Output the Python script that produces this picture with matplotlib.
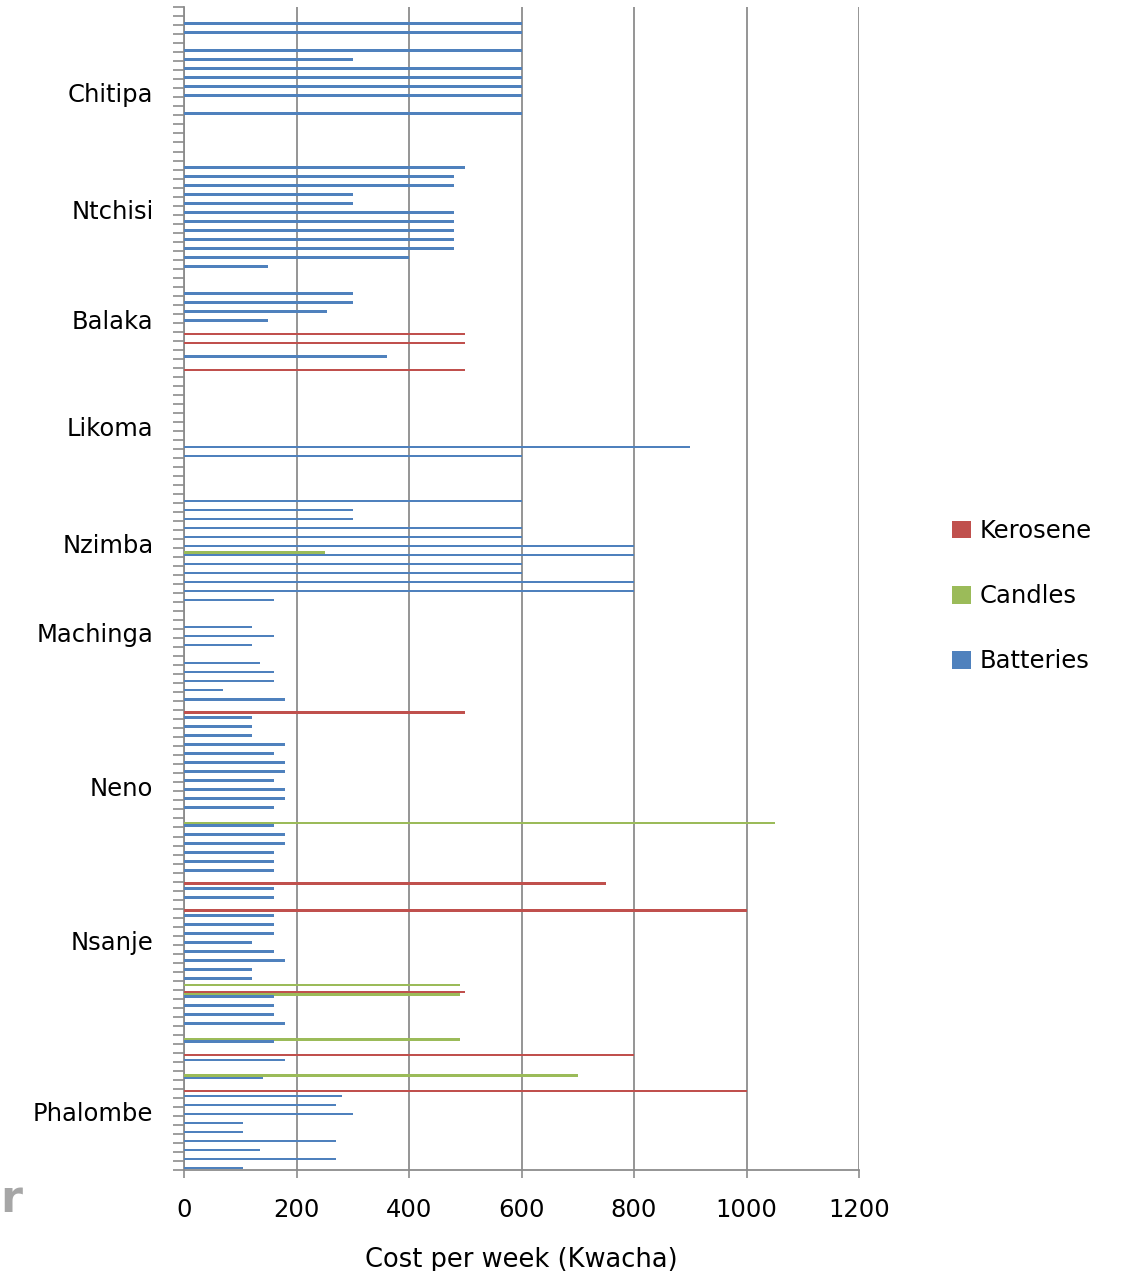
import numpy as np
import matplotlib.pyplot as plt

# Weekly lighting cost (Kwacha) per surveyed household, rows counted from the top
N_ROWS = 129

districts = ["Chitipa", "Ntchisi", "Balaka", "Likoma", "Nzimba",
             "Machinga", "Neno", "Nsanje", "Phalombe"]
district_rows = [9.4, 22.4, 34.6, 46.5, 59.5, 69.4, 86.5, 103.5, 122.5]

kerosene_rows = [36, 37, 40, 78, 97, 100, 109, 116, 120]
kerosene_vals = [500, 500, 500, 500, 750, 1000, 500, 800, 1000]

candles_rows = [60, 90, 108, 109, 114, 118]
candles_vals = [250, 1050, 490, 490, 490, 700]

battery_rows = [1, 2, 4, 5, 6, 7, 8, 9, 11,
                17, 18, 19, 20, 21, 22, 23, 24, 25, 26, 27, 28,
                31, 32, 33, 34, 38,
                48, 49, 54, 55, 56, 57, 58, 59, 60, 61, 62, 63, 64, 65,
                68, 69, 70, 72, 73, 74, 75, 76, 78, 79, 80, 81,
                82, 83, 84, 85, 86, 87, 88, 90, 91, 92, 93, 94, 95, 97, 98,
                100, 101, 102, 103, 104, 105, 106, 107, 109, 110, 111, 112,
                114, 116, 118, 120, 121, 122, 123, 124, 125, 126, 127, 128]
battery_vals = [600, 600, 600, 300, 600, 600, 600, 600, 600,
                500, 480, 480, 300, 300, 480, 480, 480, 480, 480, 400, 150,
                300, 300, 255, 150, 360,
                900, 600, 600, 300, 300, 600, 600, 800, 800, 600, 600, 800, 800, 160,
                120, 160, 120, 135, 160, 160, 70, 180, 120, 120, 120, 180,
                160, 180, 180, 160, 180, 180, 160, 160, 180, 180, 160, 160, 160, 160, 160,
                160, 160, 160, 120, 160, 180, 120, 120, 160, 160, 160, 180,
                160, 180, 140, 280, 270, 300, 105, 105, 270, 135, 270, 105]

FONT = 17.5
GRID = "#8c8c8c"

W, H = 1122, 1271
fig = plt.figure(figsize=(W / 100, H / 100), dpi=100)
ax = fig.add_axes([184 / W, 1 - 1170 / H, 675 / W, 1162.7 / H])

# each household row holds three slots: kerosene on top, candles, batteries below
series = [
    ("Kerosene", kerosene_rows, kerosene_vals, "#C0504D", 0.23),
    ("Candles", candles_rows, candles_vals, "#9BBB59", 0.50),
    ("Batteries", battery_rows, battery_vals, "#4F81BD", 0.77),
]
for name, rows, vals, color, off in series:
    ax.barh(np.array(rows) + off, vals, height=0.28, color=color,
            label=name, zorder=3)

ax.set_xlim(0, 1200)
ax.set_ylim(N_ROWS, 0)
ax.set_xticks(np.arange(0, 1201, 200))
ax.set_yticks(district_rows)
ax.set_yticklabels(districts)
ax.set_yticks(np.arange(0, N_ROWS + 1), minor=True)

ax.tick_params(axis="y", which="major", length=0, pad=22, labelsize=FONT)
ax.tick_params(axis="y", which="minor", length=8, width=1.2, color=GRID)
ax.tick_params(axis="x", length=6, width=1.2, color=GRID, pad=14,
               labelsize=FONT)

ax.xaxis.grid(True, color=GRID, linewidth=1.3, zorder=0)
ax.set_axisbelow(True)
for side in ("top", "right"):
    ax.spines[side].set_visible(False)
for side in ("left", "bottom"):
    ax.spines[side].set_color(GRID)
    ax.spines[side].set_linewidth(1.3)

ax.set_xlabel("Cost per week (Kwacha)", fontsize=18.5, labelpad=18)

ax.legend(loc="upper left", bbox_to_anchor=(952 / W, 1 - 519 / H),
          bbox_transform=fig.transFigure, frameon=False, fontsize=FONT,
          handlelength=0.8, handleheight=0.75, handletextpad=0.35,
          labelspacing=1.69, borderpad=0, borderaxespad=0)

# stray letter at the left edge of the slide
fig.text(0.0, 1 - 1200 / H, "r", fontsize=32, color="#a6a6a6",
         fontweight="bold", ha="left", va="center")

fig.savefig("out.png", dpi=100)
